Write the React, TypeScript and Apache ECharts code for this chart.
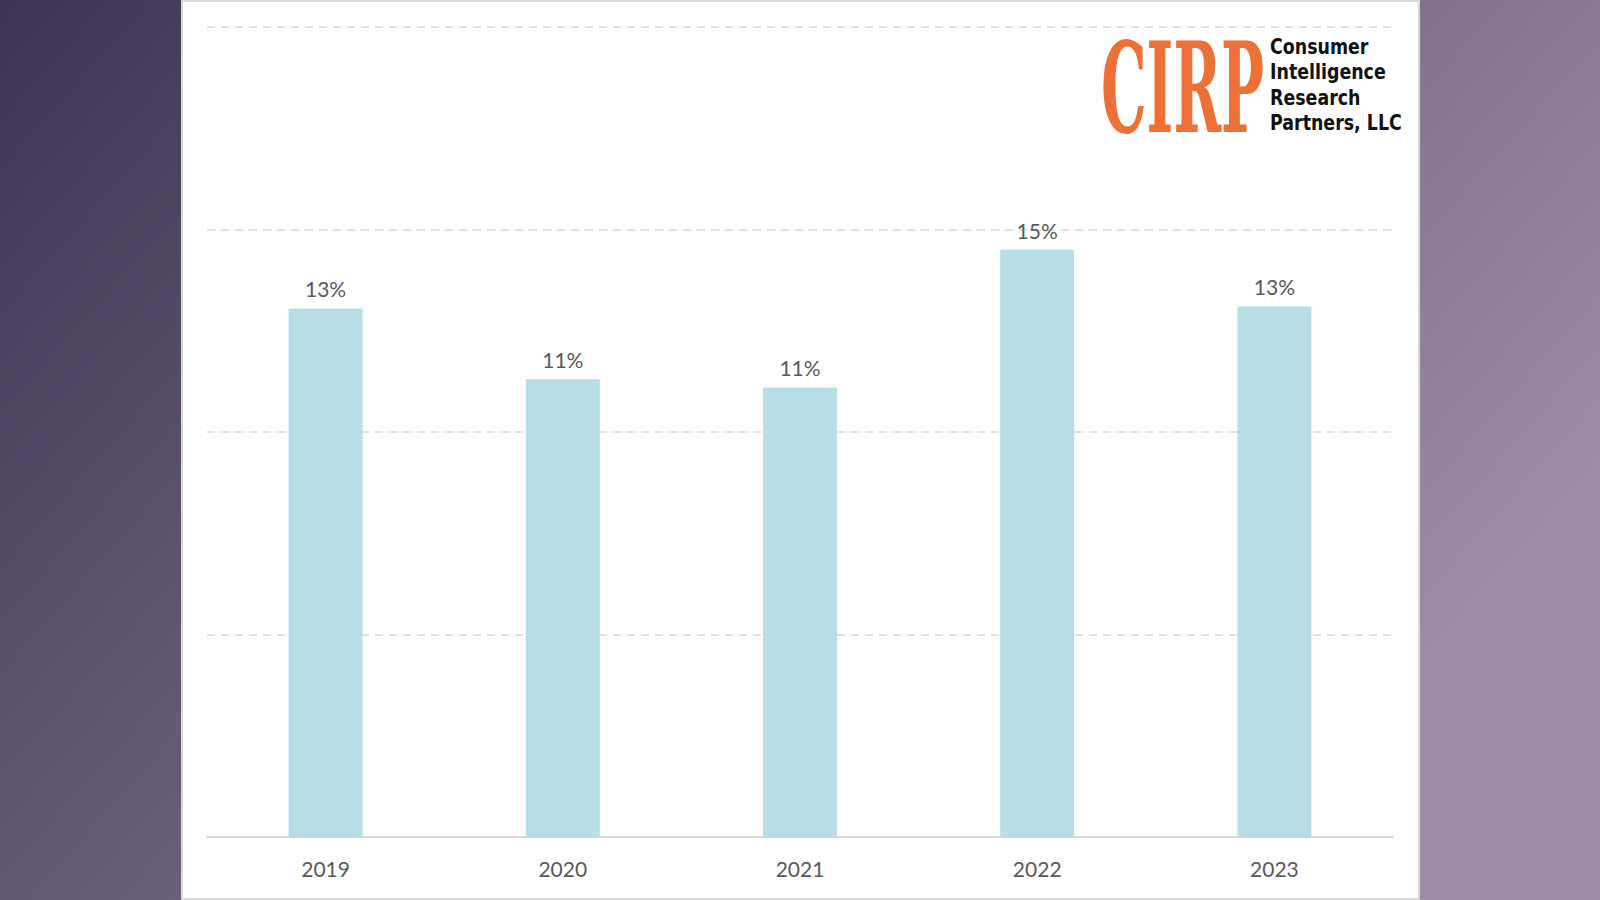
import React, { useEffect, useRef } from "react";
import * as echarts from "echarts";

const years = ["2019", "2020", "2021", "2022", "2023"];
const shares = [13.05, 11.3, 11.1, 14.5, 13.1];
const logoMark = "CIRP";
const logoLines = ["Consumer", "Intelligence", "Research", "Partners, LLC"];

export default function App() {
  const ref = useRef<HTMLDivElement>(null);
  useEffect(() => {
    if (!ref.current) return;
    const chart = echarts.init(ref.current, null, { renderer: "svg" });
    const font = "Lato, 'Open Sans', sans-serif";
    chart.setOption({
      animation: false,
      backgroundColor: new echarts.graphic.LinearGradient(0, 0, 1, 0.5, [
        { offset: 0, color: "#3d3550" },
        { offset: 1, color: "#9a8ca5" },
      ]),
      grid: { left: 207, right: 207, top: 27, bottom: 63, containLabel: false },
      xAxis: {
        type: "category",
        data: years,
        axisLine: { lineStyle: { color: "#d9d9d9", width: 2 } },
        axisTick: { show: false },
        axisLabel: { color: "#595959", fontSize: 21, fontFamily: font, margin: 21 },
      },
      yAxis: {
        type: "value",
        min: 0,
        max: 20,
        interval: 5,
        axisLabel: { show: false },
        axisLine: { show: false },
        axisTick: { show: false },
        splitLine: { lineStyle: { color: "#d9d9d9", width: 1.5, type: [8, 6] } },
      },
      series: [
        {
          type: "bar",
          data: shares,
          barWidth: 74,
          itemStyle: { color: "#b8dee5" },
          label: {
            show: true,
            position: "top",
            distance: 9,
            color: "#595959",
            fontSize: 21,
            fontFamily: font,
            formatter: (p: any) => Math.round(p.value) + "%",
          },
        },
      ],
      graphic: [
        {
          type: "rect",
          z: -10,
          shape: { x: 182, y: 1, width: 1237, height: 898 },
          style: { fill: "#ffffff", stroke: "#d9d9d9", lineWidth: 2 },
        },
        {
          type: "text",
          z: 10,
          x: 1101,
          y: 25,
          scaleX: 0.455,
          style: {
            text: logoMark,
            fontFamily: "'DejaVu Serif', serif",
            fontWeight: "bold",
            fontSize: 126,
            fill: "#ed7036",
            textVerticalAlign: "top",
          },
        },
        ...logoLines.map((t, i) => ({
          type: "text",
          z: 10,
          x: 1270,
          y: 36 + i * 25.5,
          scaleX: 0.83,
          style: {
            text: t,
            fontFamily: "'DejaVu Sans', sans-serif",
            fontWeight: "bold",
            fontSize: 21,
            fill: "#111111",
            textVerticalAlign: "top",
          },
        })),
      ],
    });
    return () => chart.dispose();
  }, []);
  return (
    <div
      ref={ref}
      style={{ position: "fixed", left: 0, top: 0, width: 1600, height: 900 }}
    />
  );
}
